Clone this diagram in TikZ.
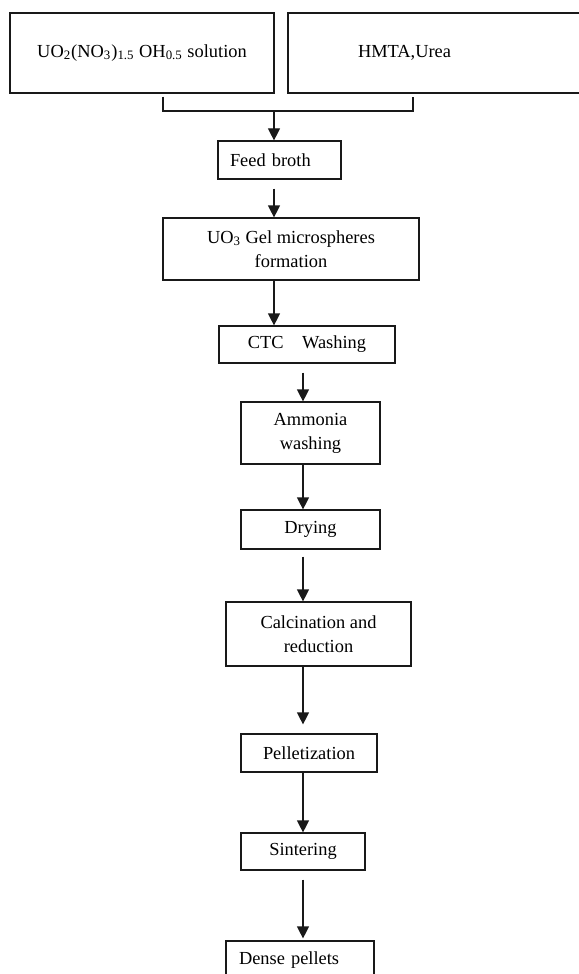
\documentclass[tikz,border=0pt]{standalone}
\usepackage{fontspec}
\setmainfont{Liberation Serif}
\usepackage{tikz}
\usetikzlibrary{arrows.meta,positioning,calc}
\definecolor{ink}{RGB}{25,25,25}
\tikzset{
  stage/.style={draw=ink, line width=0.6pt, fill=white, align=center, inner sep=2pt,
    font=\fontsize{9.2}{12}\selectfont},
  leftstage/.style={stage, align=left, inner ysep=0pt},
  flow/.style={draw=ink, line width=0.6pt, -{Triangle[length=6pt,width=6pt]}},
  joinline/.style={draw=ink, line width=0.6pt}
}

\begin{document}
\begin{tikzpicture}[x=0.5pt, y=-0.5pt, font=\fontsize{9.2}{12}\selectfont]
  \useasboundingbox (0,0) rectangle (578,974);
  % inputs
  \node[stage, minimum width=132pt, minimum height=40pt] (sol) at (142,53)
    {UO\textsubscript{2}(NO\textsubscript{3})\textsubscript{1.5} OH\textsubscript{0.5} solution};
  \node[leftstage, text width=77pt, inner xsep=35pt, minimum height=40pt] (hmta) at (435,53) {HMTA,Urea};
  % process chain
  \node[leftstage, text width=49.5pt, inner xsep=6pt, minimum height=19pt] (feed) at (279.5,160) {Feed broth};
  \node[stage, minimum width=128pt, minimum height=31pt] (gel) at (291,249) {UO\textsubscript{3} Gel microspheres\\formation};
  \node[stage, minimum width=88pt, minimum height=18.5pt] (ctc) at (307,344.5) {CTC\quad Washing};
  \node[stage, minimum width=69.5pt, minimum height=31pt] (ammonia) at (310.5,433) {Ammonia\\washing};
  \node[stage, minimum width=69.5pt, minimum height=19.5pt] (drying) at (310.5,529.5) {Drying};
  \node[stage, minimum width=92.5pt, minimum height=32pt] (calc) at (318.5,634) {Calcination and\\reduction};
  \node[stage, minimum width=68pt, minimum height=19pt] (pellet) at (309,753) {Pelletization};
  \node[stage, minimum width=62pt, minimum height=18.5pt] (sinter) at (303,851.5) {Sintering};
  \node[leftstage, text width=61pt, inner xsep=6.5pt, minimum height=19pt] (dense) at (300,960) {Dense pellets};

  \coordinate (upper) at (274,111);
  \coordinate (lower) at (303,0);
  \coordinate (bl) at (163,111);
  \coordinate (br) at (413,111);

  \draw[joinline, shorten <=1.5pt, shorten >=1.5pt] (bl |- sol.south) -- (bl) -- (br) -- (br |- hmta.south);
  \draw[flow] (upper) -- (upper |- feed.north);
  \draw[flow, shorten <=4.5pt] (feed.south -| upper) -- (gel.north -| upper);
  \draw[flow] (gel.south -| upper) -- (ctc.north -| upper);
  \draw[flow, shorten <=4.5pt] (ctc.south -| lower) -- (ammonia.north -| lower);
  \draw[flow] (ammonia.south -| lower) -- (drying.north -| lower);
  \draw[flow, shorten <=3.5pt] (drying.south -| lower) -- (calc.north -| lower);
  \draw[flow, shorten >=4.5pt] (calc.south -| lower) -- (pellet.north -| lower);
  \draw[flow] (pellet.south -| lower) -- (sinter.north -| lower);
  \draw[flow, shorten <=4.5pt, shorten >=1pt] (sinter.south -| lower) -- (dense.north -| lower);
\end{tikzpicture}
\end{document}
